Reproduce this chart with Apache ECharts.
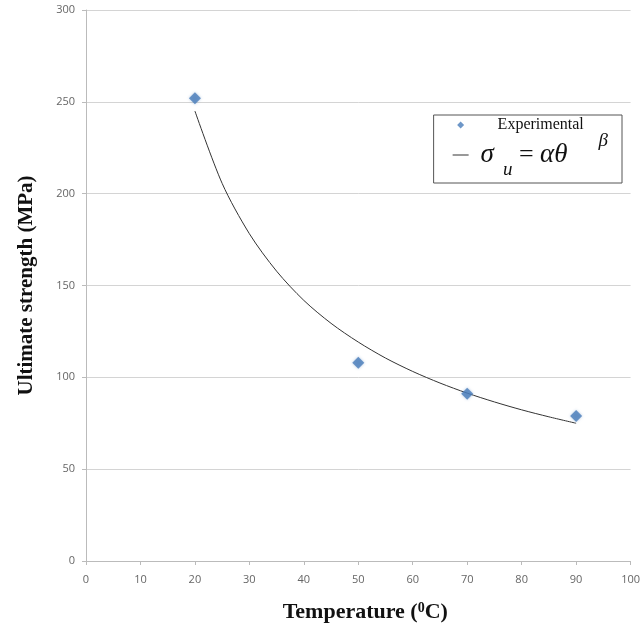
<!DOCTYPE html>
<html>
<head>
<meta charset="utf-8">
<script src="https://cdn.jsdelivr.net/npm/echarts@6/dist/echarts.min.js"></script>
<style>
  html, body { margin: 0; padding: 0; background: #fff; }
  #chart { width: 643px; height: 628px; }
</style>
</head>
<body>
<div id="chart"></div>
<script>
// measured points
const tempData = [20, 50, 70, 90];
const strengthData = [252, 108, 91, 79];

// fitted curve sigma_u = alpha * theta^beta
const fitTemp = [20, 25, 30, 35, 40, 45, 50, 55, 60, 65, 70, 75, 80, 85, 90];
const fitStrength = [245, 205.6, 178.2, 157.8, 141.9, 129.4, 119.2, 110.5, 103.2, 96.9, 91.4, 86.6, 82.3, 78.5, 75];

const xTicks = {min: 0, max: 100, interval: 10};
const yTicks = {min: 0, max: 300, interval: 50};

const chart = echarts.init(document.getElementById('chart'));

const labelStyle = {
  color: '#666',
  fontSize: 11,
  fontFamily: 'Open Sans'
};

const serif = 'Liberation Serif';

// legend icons: the leading moves keep a 16x8 box so nothing gets stretched
const diamondIcon = 'path://M0,0M16,8M8,0.5L11.5,4L8,7.5L4.5,4Z';
const lineIcon = 'path://M0,0M16,8M0,3.5L16,3.5L16,4.5L0,4.5Z';

const option = {
  animation: false,
  grid: {
    left: 86,
    right: 7,
    top: 10,
    bottom: 66
  },
  legend: {
    orient: 'vertical',
    right: 21,
    top: 115,
    align: 'left',
    borderColor: '#555',
    borderWidth: 1,
    padding: [1, 14, 4, 19],
    itemWidth: 16,
    itemHeight: 8,
    itemGap: -3,
    data: [
      {
        name: 'Experimental',
        icon: diamondIcon,
        textStyle: {
          fontFamily: serif,
          fontSize: 16,
          lineHeight: 18,
          color: '#111',
          padding: [0, 0, 0, 24]
        }
      },
      {
        name: 'fit',
        icon: lineIcon,
        textStyle: {
          padding: [0, 0, 0, 7],
          rich: {
            m: {fontFamily: serif, fontStyle: 'italic', fontSize: 27, color: '#111', lineHeight: 48},
            e: {fontFamily: serif, fontSize: 26, color: '#111', lineHeight: 48},
            sub: {fontFamily: serif, fontStyle: 'italic', fontSize: 19, color: '#111', verticalAlign: 'bottom', padding: [0, 0, 0, 9]},
            sup: {fontFamily: serif, fontStyle: 'italic', fontSize: 19, color: '#111', verticalAlign: 'top', padding: [0, 0, 0, 31]}
          }
        }
      }
    ],
    formatter: function (name) {
      if (name === 'fit') {
        return '{m|σ}{sub|u}{e| = }{m|αθ}{sup|β}';
      }
      return name;
    }
  },
  xAxis: {
    type: 'value',
    min: xTicks.min,
    max: xTicks.max,
    interval: xTicks.interval,
    name: 'Temperature ({s|0}C)',
    nameLocation: 'middle',
    nameGap: 40,
    nameTextStyle: {
      fontFamily: serif,
      fontWeight: 'bold',
      fontSize: 22,
      color: '#111',
      padding: [0, 0, 0, 14],
      rich: {
        s: {fontFamily: serif, fontWeight: 'bold', fontSize: 14, color: '#111', verticalAlign: 'top', lineHeight: 14}
      }
    },
    axisLine: {lineStyle: {color: '#bbb', width: 1}},
    axisTick: {show: true, length: 4, lineStyle: {color: '#bbb'}},
    axisLabel: Object.assign({margin: 13}, labelStyle),
    splitLine: {show: false}
  },
  yAxis: {
    type: 'value',
    min: yTicks.min,
    max: yTicks.max,
    interval: yTicks.interval,
    name: 'Ultimate strength (MPa)',
    nameLocation: 'middle',
    nameGap: 49,
    nameTextStyle: {
      fontFamily: serif,
      fontWeight: 'bold',
      fontSize: 21,
      color: '#111'
    },
    axisLine: {show: true, lineStyle: {color: '#bbb', width: 1}},
    axisTick: {show: true, length: 4, lineStyle: {color: '#bbb'}},
    axisLabel: Object.assign({margin: 11}, labelStyle),
    splitLine: {show: true, lineStyle: {color: '#d4d4d4', width: 1}}
  },
  series: [
    {
      name: 'fit',
      type: 'line',
      data: fitTemp.map((t, i) => [t, fitStrength[i]]),
      smooth: 0.3,
      showSymbol: false,
      symbol: 'none',
      lineStyle: {color: '#333', width: 1},
      itemStyle: {color: '#333'},
      z: 2
    },
    {
      name: 'Experimental',
      type: 'scatter',
      data: tempData.map((t, i) => [t, strengthData[i]]),
      symbol: 'diamond',
      symbolSize: 12,
      itemStyle: {
        color: '#4a7dba',
        shadowBlur: 3,
        shadowColor: 'rgba(74,125,186,0.5)'
      },
      z: 3
    }
  ]
};

chart.setOption(option);
</script>
</body>
</html>
